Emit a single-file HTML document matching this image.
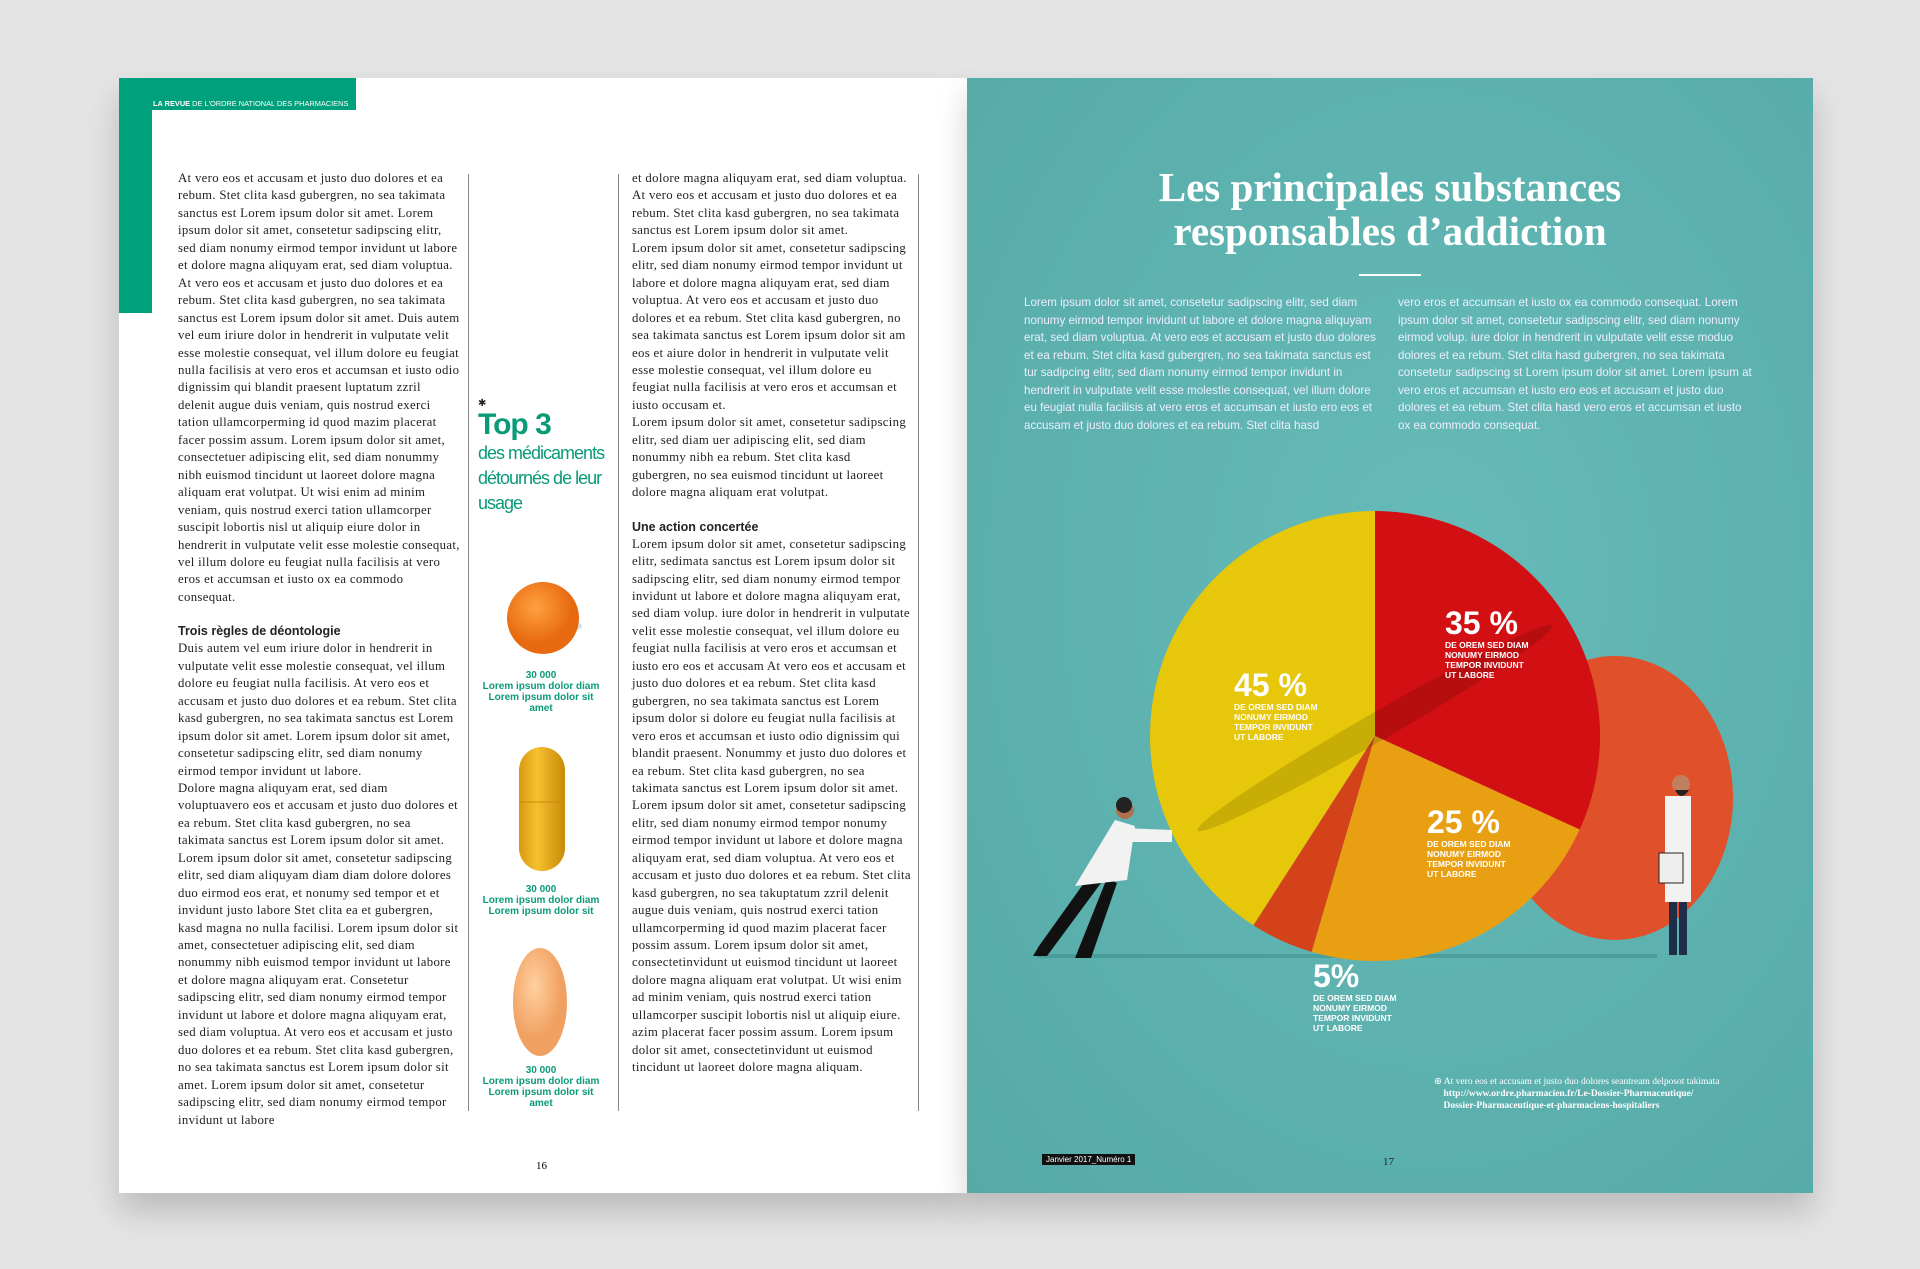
<!DOCTYPE html>
<html><head><meta charset="utf-8">
<style>
*{margin:0;padding:0;box-sizing:border-box}
body{width:1920px;height:1269px;background:#e4e4e4;position:relative;overflow:hidden;font-family:"Liberation Serif",serif}
.abs{position:absolute}
#left{left:119px;top:78px;width:848px;height:1115px;background:#fff;box-shadow:0 18px 30px rgba(0,0,0,.18)}
#right{left:967px;top:78px;width:846px;height:1115px;background:radial-gradient(ellipse at 55% 45%,#66bbb8,#55aaa7);box-shadow:0 18px 30px rgba(0,0,0,.18)}
.col{font-size:12.8px;line-height:17.45px;color:#222;text-align:left;letter-spacing:0.32px}
.col h4{font-family:"Liberation Sans",sans-serif;font-size:12.5px;font-weight:bold;margin-top:16px;line-height:18px;letter-spacing:0}
.vl{width:1px;background:#888}
.rt{font-family:"Liberation Sans",sans-serif;font-size:11.6px;line-height:17.5px;color:#eef}
.cap{font-family:"Liberation Sans",sans-serif;font-weight:bold;font-size:10px;line-height:11px;color:#0a9a78;text-align:center;width:120px}
</style></head><body>
<div id="left" class="abs"></div>
<div class="abs" style="left:119px;top:78px;width:33px;height:235px;background:#00a07c"></div>
<div class="abs" style="left:119px;top:78px;width:237px;height:32px;background:#00a07c"></div>
<div class="abs" style="left:153px;top:99px;font-family:'Liberation Sans',sans-serif;font-size:7.4px;color:#fff;white-space:nowrap"><b>LA REVUE</b> DE L'ORDRE NATIONAL DES PHARMACIENS</div>

<div class="abs col" style="left:178px;top:170px;width:282px">
At vero eos et accusam et justo duo dolores et ea rebum. Stet clita kasd gubergren, no sea takimata sanctus est Lorem ipsum dolor sit amet. Lorem ipsum dolor sit amet, consetetur sadipscing elitr, sed diam nonumy eirmod tempor invidunt ut labore et dolore magna aliquyam erat, sed diam voluptua. At vero eos et accusam et justo duo dolores et ea rebum. Stet clita kasd gubergren, no sea takimata sanctus est Lorem ipsum dolor sit amet. Duis autem vel eum iriure dolor in hendrerit in vulputate velit esse molestie consequat, vel illum dolore eu feugiat nulla facilisis at vero eros et accumsan et iusto odio dignissim qui blandit praesent luptatum zzril delenit augue duis veniam, quis nostrud exerci tation ullamcorperming id quod mazim placerat facer possim assum. Lorem ipsum dolor sit amet, consectetuer adipiscing elit, sed diam nonummy nibh euismod tincidunt ut laoreet dolore magna aliquam erat volutpat. Ut wisi enim ad minim veniam, quis nostrud exerci tation ullamcorper suscipit lobortis nisl ut aliquip eiure dolor in hendrerit in vulputate velit esse molestie consequat, vel illum dolore eu feugiat nulla facilisis at vero eros et accumsan et iusto ox ea commodo consequat.
<h4>Trois règles de déontologie</h4>
Duis autem vel eum iriure dolor in hendrerit in vulputate velit esse molestie consequat, vel illum dolore eu feugiat nulla facilisis. At vero eos et accusam et justo duo dolores et ea rebum. Stet clita kasd gubergren, no sea takimata sanctus est Lorem ipsum dolor sit amet. Lorem ipsum dolor sit amet, consetetur sadipscing elitr, sed diam nonumy eirmod tempor invidunt ut labore.<br>Dolore magna aliquyam erat, sed diam voluptuavero eos et accusam et justo duo dolores et ea rebum. Stet clita kasd gubergren, no sea takimata sanctus est Lorem ipsum dolor sit amet. Lorem ipsum dolor sit amet, consetetur sadipscing elitr, sed diam aliquyam diam diam dolore dolores duo eirmod eos erat, et nonumy sed tempor et et invidunt justo labore Stet clita ea et gubergren, kasd magna no nulla facilisi. Lorem ipsum dolor sit amet, consectetuer adipiscing elit, sed diam nonummy nibh euismod tempor invidunt ut labore et dolore magna aliquyam erat. Consetetur sadipscing elitr, sed diam nonumy eirmod tempor invidunt ut labore et dolore magna aliquyam erat, sed diam voluptua. At vero eos et accusam et justo duo dolores et ea rebum. Stet clita kasd gubergren, no sea takimata sanctus est Lorem ipsum dolor sit amet. Lorem ipsum dolor sit amet, consetetur sadipscing elitr, sed diam nonumy eirmod tempor invidunt ut labore
</div>
<div class="abs vl" style="left:468px;top:174px;height:937px"></div>
<div class="abs vl" style="left:618px;top:174px;height:937px"></div>
<div class="abs vl" style="left:918px;top:174px;height:937px"></div>

<div class="abs" style="left:478px;top:398px;font-family:'Liberation Sans',sans-serif;color:#0a9a78;width:135px">
<div style="font-size:10px;color:#222">✱</div>
<div style="font-size:30px;font-weight:bold;letter-spacing:-1px;line-height:32px">Top 3</div>
<div style="font-size:18px;line-height:25px;letter-spacing:-1px">des médicaments détournés de leur usage</div>
</div>
<svg class="abs" style="left:478px;top:570px" width="130" height="490">
<defs><radialGradient id="og" cx="40%" cy="35%"><stop offset="0" stop-color="#ffa040"/><stop offset="1" stop-color="#e86a10"/></radialGradient>
<linearGradient id="yg"><stop offset="0" stop-color="#d89a10"/><stop offset=".4" stop-color="#f6c030"/><stop offset="1" stop-color="#c88a08"/></linearGradient>
<radialGradient id="pg" cx="40%" cy="35%"><stop offset="0" stop-color="#ffd0a0"/><stop offset="1" stop-color="#f0a060"/></radialGradient></defs>
<ellipse cx="68" cy="56" rx="36" ry="8" fill="#ddd"/>
<circle cx="65" cy="48" r="36" fill="url(#og)"/>
<rect x="41" y="177" width="46" height="124" rx="23" fill="url(#yg)"/>
<line x1="41" y1="232" x2="87" y2="232" stroke="#c88a08"/>
<ellipse cx="62" cy="432" rx="27" ry="54" fill="url(#pg)"/>
</svg>
<div class="abs cap" style="left:481px;top:670px">30 000<br>Lorem ipsum dolor diam Lorem ipsum dolor sit amet</div>
<div class="abs cap" style="left:481px;top:884px">30 000<br>Lorem ipsum dolor diam Lorem ipsum dolor sit</div>
<div class="abs cap" style="left:481px;top:1065px">30 000<br>Lorem ipsum dolor diam Lorem ipsum dolor sit amet</div>

<div class="abs col" style="left:632px;top:170px;width:280px">
et dolore magna aliquyam erat, sed diam voluptua. At vero eos et accusam et justo duo dolores et ea rebum. Stet clita kasd gubergren, no sea takimata sanctus est Lorem ipsum dolor sit amet.<br>Lorem ipsum dolor sit amet, consetetur sadipscing elitr, sed diam nonumy eirmod tempor invidunt ut labore et dolore magna aliquyam erat, sed diam voluptua. At vero eos et accusam et justo duo dolores et ea rebum. Stet clita kasd gubergren, no sea takimata sanctus est Lorem ipsum dolor sit am eos et aiure dolor in hendrerit in vulputate velit esse molestie consequat, vel illum dolore eu feugiat nulla facilisis at vero eros et accumsan et iusto occusam et.<br>Lorem ipsum dolor sit amet, consetetur sadipscing elitr, sed diam uer adipiscing elit, sed diam nonummy nibh ea rebum. Stet clita kasd gubergren, no sea euismod tincidunt ut laoreet dolore magna aliquam erat volutpat.
<h4>Une action concertée</h4>
Lorem ipsum dolor sit amet, consetetur sadipscing elitr, sedimata sanctus est Lorem ipsum dolor sit sadipscing elitr, sed diam nonumy eirmod tempor invidunt ut labore et dolore magna aliquyam erat, sed diam volup. iure dolor in hendrerit in vulputate velit esse molestie consequat, vel illum dolore eu feugiat nulla facilisis at vero eros et accumsan et iusto ero eos et accusam At vero eos et accusam et justo duo dolores et ea rebum. Stet clita kasd gubergren, no sea takimata sanctus est Lorem ipsum dolor si dolore eu feugiat nulla facilisis at vero eros et accumsan et iusto odio dignissim qui blandit praesent. Nonummy et justo duo dolores et ea rebum. Stet clita kasd gubergren, no sea takimata sanctus est Lorem ipsum dolor sit amet. Lorem ipsum dolor sit amet, consetetur sadipscing elitr, sed diam nonumy eirmod tempor nonumy eirmod tempor invidunt ut labore et dolore magna aliquyam erat, sed diam voluptua. At vero eos et accusam et justo duo dolores et ea rebum. Stet clita kasd gubergren, no sea takuptatum zzril delenit augue duis veniam, quis nostrud exerci tation ullamcorperming id quod mazim placerat facer possim assum. Lorem ipsum dolor sit amet, consectetinvidunt ut euismod tincidunt ut laoreet dolore magna aliquam erat volutpat. Ut wisi enim ad minim veniam, quis nostrud exerci tation ullamcorper suscipit lobortis nisl ut aliquip eiure. azim placerat facer possim assum. Lorem ipsum dolor sit amet, consectetinvidunt ut euismod tincidunt ut laoreet dolore magna aliquam.
</div>
<div class="abs" style="left:536px;top:1160px;font-size:11px">16</div>

<div id="right" class="abs"></div>
<div class="abs" style="left:1040px;top:165px;width:700px;text-align:center;color:#fff;font-size:41px;line-height:44px;font-weight:bold;font-family:'Liberation Serif',serif">Les principales substances<br>responsables d’addiction</div>
<div class="abs" style="left:1359px;top:274px;width:62px;height:2px;background:#fff"></div>
<div class="abs rt" style="left:1024px;top:294px;width:360px">Lorem ipsum dolor sit amet, consetetur sadipscing elitr, sed diam nonumy eirmod tempor invidunt ut labore et dolore magna aliquyam erat, sed diam voluptua. At vero eos et accusam et justo duo dolores et ea rebum. Stet clita kasd gubergren, no sea takimata sanctus est tur sadipcing elitr, sed diam nonumy eirmod tempor invidunt in hendrerit in vulputate velit esse molestie consequat, vel illum dolore eu feugiat nulla facilisis at vero eros et accumsan et iusto ero eos et accusam et justo duo dolores et ea rebum. Stet clita hasd</div>
<div class="abs rt" style="left:1398px;top:294px;width:356px">vero eros et accumsan et iusto ox ea commodo consequat. Lorem ipsum dolor sit amet, consetetur sadipscing elitr, sed diam nonumy eirmod volup. iure dolor in hendrerit in vulputate velit esse moduo dolores et ea rebum. Stet clita hasd gubergren, no sea takimata consetetur sadipscing st Lorem ipsum dolor sit amet. Lorem ipsum at vero eros et accumsan et iusto ero eos et accusam et justo duo dolores et ea rebum. Stet clita hasd vero eros et accumsan et iusto ox ea commodo consequat.</div>

<svg id="chart" class="abs" style="left:967px;top:78px" width="846" height="1115"></svg>

<div class="abs" style="left:1434px;top:1076px;font-size:9.5px;line-height:12px;color:#fff;font-family:'Liberation Serif',serif">⊕ At vero eos et accusam et justo duo dolores seantream delposot takimata<br>&nbsp;&nbsp;&nbsp;&nbsp;<b>http://www.ordre.pharmacien.fr/Le-Dossier-Pharmaceutique/<br>&nbsp;&nbsp;&nbsp;&nbsp;Dossier-Pharmaceutique-et-pharmaciens-hospitaliers</b></div>
<div class="abs" style="left:1042px;top:1154px;background:#111;color:#fff;font-size:8px;padding:1px 4px;font-family:'Liberation Sans',sans-serif">Janvier 2017_Numéro 1</div>
<div class="abs" style="left:1383px;top:1156px;font-size:11px;color:#222">17</div>

<script>
const categories=["35 %","25 %","5%","45 %"];
const values=[35,25,5,45];
const colors=["#d20f12","#e8a012","#d4421a","#e6c709"];
const subLabel="DE OREM SED DIAM|NONUMY EIRMOD|TEMPOR INVIDUNT|UT LABORE";
const NS="http://www.w3.org/2000/svg";
const svg=document.getElementById('chart');
const cx=408,cy=658,r=225,startDeg=0;
function mk(t,a,parent){const e=document.createElementNS(NS,t);for(const k in a)e.setAttribute(k,a[k]);(parent||svg).appendChild(e);return e;}
const fl=mk('rect',{x:70,y:876,width:620,height:4,fill:'#3f8f8d',opacity:.6});


const bd=mk('ellipse',{cx:648,cy:720,rx:118,ry:142,fill:'#e0512b'});


const total=values.reduce((a,b)=>a+b,0);
function ang(v){return v/total*2*Math.PI+startDeg*Math.PI/180;}
function pt(a,rr){return [cx+rr*Math.sin(a),cy-rr*Math.cos(a)];}
let acc=0;
const labelPos=[[478,556],[460,755],[346,909],[267,618]];
values.forEach((v,i)=>{
  const a0=ang(acc),a1=ang(acc+v);acc+=v;
  const p0=pt(a0,r),p1=pt(a1,r);
  const large=(a1-a0)>Math.PI?1:0;
  const p=mk('path',{d:`M${cx},${cy} L${p0[0]},${p0[1]} A${r},${r} 0 ${large} 1 ${p1[0]},${p1[1]} Z`,fill:colors[i]});
  
  
});
const gr=mk('ellipse',{cx:cx,cy:cy-8,rx:205,ry:14,fill:'rgba(0,0,0,0.13)',transform:`rotate(-30 ${cx} ${cy-8})`});


categories.forEach((c,i)=>{
  const [x,y]=labelPos[i];
  const t=mk('text',{x:x,y:y,fill:'#fff','font-family':'Liberation Sans, sans-serif','font-weight':'bold','font-size':32});
  t.textContent=c;
  
  
  subLabel.split('|').forEach((s,j)=>{
    const st=mk('text',{x:x,y:y+14+j*10,fill:'#fff','font-family':'Liberation Sans, sans-serif','font-weight':'bold','font-size':8.5});
    st.textContent=s;
    
    
  });
});
const g1=mk('g',{});


mk('path',{d:'M122,798 L72,868 L66,878 L80,878 L134,805 Z',fill:'#111'},g1);
mk('path',{d:'M140,800 L112,870 L108,880 L124,880 L150,805 Z',fill:'#111'},g1);
mk('path',{d:'M148,742 L168,748 L160,802 L108,808 Z',fill:'#f2f2f2'},g1);
mk('path',{d:'M156,750 L205,752 L205,764 L152,764 Z',fill:'#f2f2f2'},g1);
mk('circle',{cx:158,cy:732,r:9,fill:'#b07050'},g1);
mk('circle',{cx:157,cy:727,r:8,fill:'#222'},g1);
const g2=mk('g',{});


mk('rect',{x:702,y:820,width:8,height:57,fill:'#1e2e48'},g2);
mk('rect',{x:712,y:820,width:8,height:57,fill:'#1e2e48'},g2);
mk('rect',{x:698,y:718,width:26,height:106,fill:'#f2f2f2'},g2);
mk('rect',{x:692,y:775,width:24,height:30,fill:'#eee',stroke:'#222'},g2);
mk('circle',{cx:714,cy:706,r:9,fill:'#c08060'},g2);
mk('path',{d:'M708,712 q6,12 14,0 z',fill:'#222'},g2);
</script>
</body></html>
